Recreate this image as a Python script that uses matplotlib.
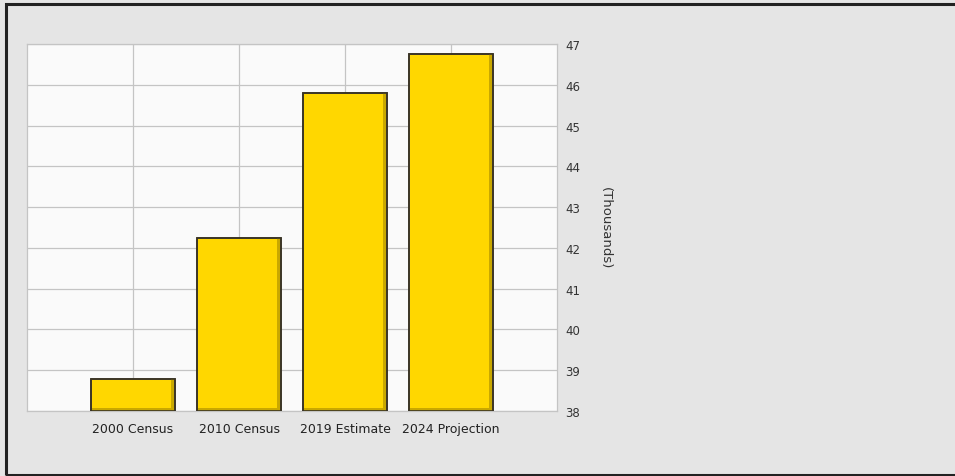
import matplotlib
matplotlib.use("Agg")
import matplotlib.pyplot as plt
from matplotlib.patches import Rectangle

# data
categories = ["2000 Census", "2010 Census", "2019 Estimate", "2024 Projection"]
values = [38.78, 42.24, 45.79, 46.75]   # thousands
yticks = [38, 39, 40, 41, 42, 43, 44, 45, 46, 47]

BG = "#E5E5E5"
GOLD = "#FFD700"
SHADE = "#C9A800"
EDGE = "#3A3426"

fig = plt.figure(figsize=(9.55, 4.77), dpi=100)
fig.patch.set_facecolor(BG)

ax = fig.add_axes([27 / 955, 1 - 412 / 477, 530 / 955, 367 / 477])
ax.set_facecolor("#FAFAFA")

pos = [1, 2, 3, 4]
w = 0.8
base = yticks[0]
heights = [v - base for v in values]

# main bars
ax.bar(pos, heights, bottom=base, width=w, color=GOLD, edgecolor=EDGE,
       linewidth=1.2, zorder=3)
# bevel shading: right strip and bottom strip
ax.bar([p + w / 2 - 0.025 for p in pos], heights, bottom=base, width=0.03,
       color=SHADE, linewidth=0, zorder=4)
ax.bar(pos, [0.07] * len(pos), bottom=base, width=w - 0.02,
       color=SHADE, linewidth=0, zorder=4)
# redraw outlines on top
ax.bar(pos, heights, bottom=base, width=w, fill=False, edgecolor=EDGE,
       linewidth=1.2, zorder=5)

ax.set_xlim(0, 5)
ax.set_ylim(yticks[0], yticks[-1])
ax.set_xticks(pos)
ax.set_xticklabels(categories)
ax.set_yticks(yticks)

ax.yaxis.tick_right()
ax.tick_params(axis="y", length=0, pad=6, labelsize=8.5, labelcolor="#333333")
ax.tick_params(axis="x", length=0, pad=8, labelsize=9, labelcolor="#222222")

ax.grid(True, color="#C4C4C4", linewidth=0.9, zorder=0)
ax.set_axisbelow(True)
for s in ax.spines.values():
    s.set_color("#C4C4C4")
    s.set_linewidth(0.9)

ax.yaxis.set_label_position("right")
ax.set_ylabel("(Thousands)", rotation=270, fontsize=9.5, color="#333333",
              labelpad=13, va="bottom")

# outer frame (left, top, bottom; open on right edge)
fig.patches.append(Rectangle((6 / 955, 1.5 / 477), 1.2, 1 - 6 / 477,
                             transform=fig.transFigure, fill=False,
                             edgecolor="#222222", linewidth=2.2))

fig.savefig("out.png", dpi=100, facecolor=fig.get_facecolor())
